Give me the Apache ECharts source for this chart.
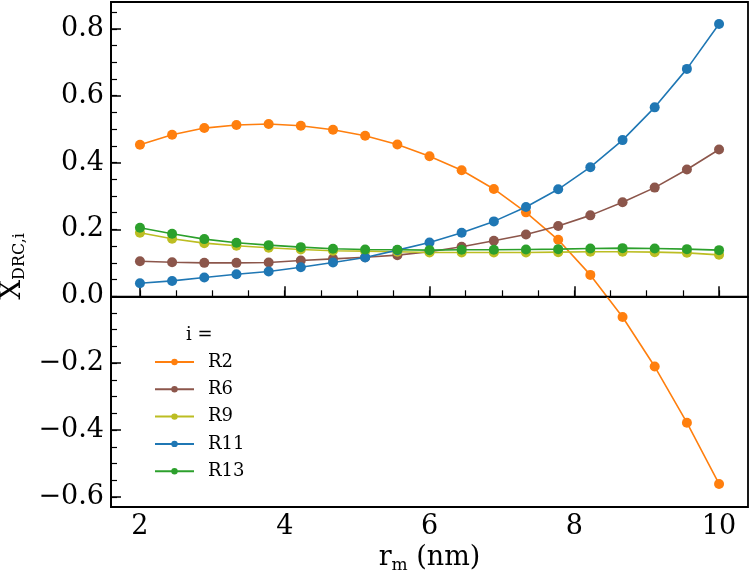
<!DOCTYPE html>
<html>
<head>
<meta charset="utf-8">
<script src="https://cdn.jsdelivr.net/npm/echarts@6/dist/echarts.min.js"></script>
<style>
  html, body { margin: 0; padding: 0; background: #fff; }
  #chart { width: 750px; height: 575px; }
</style>
</head>
<body>
<div id="chart"></div>
<script>
// r_m (nm) sample points
const rm = [2.000, 2.444, 2.889, 3.333, 3.778, 4.222, 4.667, 5.111, 5.556, 6.000,
            6.444, 6.889, 7.333, 7.778, 8.222, 8.667, 9.111, 9.556, 10.000]

const seriesNames = ['R2', 'R6', 'R9', 'R11', 'R13']
const seriesColors = ['#ff7f0e', '#8c564b', '#bcbd22', '#1f77b4', '#2ca02c']

const r2 = [0.453, 0.483, 0.503, 0.512, 0.515, 0.510, 0.498, 0.480, 0.454, 0.419,
            0.377, 0.321, 0.251, 0.169, 0.064, -0.062, -0.210, -0.378, -0.561]
const r6 = [0.105, 0.102, 0.100, 0.100, 0.101, 0.107, 0.112, 0.117, 0.123, 0.133,
            0.148, 0.166, 0.185, 0.210, 0.242, 0.281, 0.325, 0.379, 0.439]
const r9 = [0.190, 0.172, 0.159, 0.151, 0.145, 0.140, 0.136, 0.135, 0.133, 0.131,
            0.131, 0.131, 0.131, 0.132, 0.133, 0.133, 0.132, 0.130, 0.124]
const r11 = [0.039, 0.046, 0.056, 0.066, 0.074, 0.087, 0.101, 0.116, 0.138, 0.161,
             0.190, 0.224, 0.267, 0.320, 0.386, 0.467, 0.565, 0.680, 0.814]
const r13 = [0.205, 0.187, 0.171, 0.160, 0.153, 0.147, 0.142, 0.140, 0.139, 0.138,
             0.139, 0.139, 0.140, 0.141, 0.143, 0.144, 0.143, 0.141, 0.138]

const xTicks = [2, 4, 6, 8, 10]
const yTicks = [-0.6, -0.4, -0.2, 0.0, 0.2, 0.4, 0.6, 0.8]

// 次刻度
const xMinor = []
for (let v = 2; v <= 10.001; v += 0.5) xMinor.push(+v.toFixed(2))
const yMinor = []
for (let v = -0.6; v <= 0.851; v += 0.05) yMinor.push(+v.toFixed(2))

const FONT = 'DejaVu Serif'
const allData = [r2, r6, r9, r11, r13]

const chart = echarts.init(document.getElementById('chart'))

const fmtY = (v) => (v < 0 ? '\u2212' : '') + Math.abs(v).toFixed(1)

chart.setOption({
  animation: false,
  grid: {
    left: 111, right: 2, top: 2, bottom: 68,
    outerBoundsMode: 'none',
    show: true, borderColor: '#000', borderWidth: 1.8, backgroundColor: 'transparent'
  },
  title: {
    text: 'i =',
    left: 181, top: 321,
    textStyle: { fontFamily: FONT, fontSize: 18, fontWeight: 'normal', color: '#000' }
  },
  legend: {
    orient: 'vertical',
    left: 149, top: 348,
    itemWidth: 39, itemHeight: 8, itemGap: 9.3,
    data: seriesNames,
    textStyle: { fontFamily: FONT, fontSize: 18, color: '#000', padding: [0, 0, 0, 9] }
  },
  xAxis: [
    {
      type: 'value', min: 1.6, max: 10.4,
      name: 'r{sub|m} (nm)', nameLocation: 'middle', nameGap: 25,
      nameTextStyle: {
        fontFamily: FONT, fontSize: 27, color: '#000',
        rich: { sub: { fontFamily: FONT, fontSize: 17, verticalAlign: 'bottom', padding: [14, 0, 0, 0] } }
      },
      axisLine: { lineStyle: { color: '#000', width: 1.8 } },
      axisTick: { inside: true, length: 10, customValues: xTicks, lineStyle: { color: '#000', width: 1.5 } },
      axisLabel: { customValues: xTicks, fontFamily: FONT, fontSize: 27, color: '#000', margin: 6 },
      splitLine: { show: false }
    },
    {
      type: 'value', min: 1.6, max: 10.4, position: 'bottom',
      axisLine: { show: false },
      axisTick: { inside: true, length: 6, customValues: xMinor, lineStyle: { color: '#000', width: 1.2 } },
      axisLabel: { show: false },
      splitLine: { show: false }
    }
  ],
  yAxis: [
    {
      type: 'value', min: -0.63, max: 0.88,
      name: 'X{sub|DRC,i}', nameLocation: 'middle', nameGap: 82, nameRotate: 90,
      nameTextStyle: {
        fontFamily: FONT, fontSize: 28, color: '#000', padding: [0, 24, 0, 0],
        rich: { sub: { fontFamily: FONT, fontSize: 16, verticalAlign: 'bottom', padding: [14, 0, 0, 0] } }
      },
      axisLine: { lineStyle: { color: '#000', width: 1.8 } },
      axisTick: { inside: true, length: 10, customValues: yTicks, lineStyle: { color: '#000', width: 1.5 } },
      axisLabel: { customValues: yTicks, formatter: fmtY, fontFamily: FONT, fontSize: 27, color: '#000', margin: 7 },
      splitLine: { show: false }
    },
    {
      type: 'value', min: -0.63, max: 0.88, position: 'left',
      axisLine: { show: false },
      axisTick: { inside: true, length: 6, customValues: yMinor, lineStyle: { color: '#000', width: 1.2 } },
      axisLabel: { show: false },
      splitLine: { show: false }
    }
  ],
  series: seriesNames.map((name, i) => ({
    name,
    type: 'line',
    data: rm.map((x, j) => [x, allData[i][j]]),
    color: seriesColors[i],
    symbol: 'circle',
    symbolSize: 10,
    showSymbol: true,
    lineStyle: { width: 1.6 },
    z: 2 + i,
    markLine: i === 0 ? {
      silent: true,
      symbol: ['none', 'none'],
      label: { show: false },
      lineStyle: { color: '#000', width: 1.4, type: 'solid' },
      data: [{ yAxis: 0 }]
    } : undefined
  }))
})
</script>
</body>
</html>
